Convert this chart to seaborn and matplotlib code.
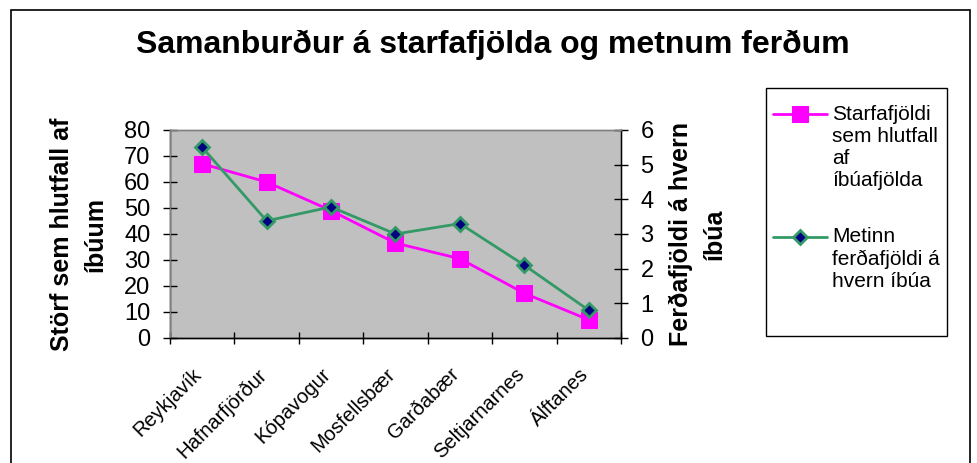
import numpy as np
import pandas as pd
import matplotlib
matplotlib.use('Agg')
import matplotlib.pyplot as plt
import matplotlib.patches as patches
import matplotlib.transforms as mtransforms
from matplotlib.legend_handler import HandlerLine2D
import seaborn as sns

towns = ['Reykjavík', 'Hafnarfjörður', 'Kópavogur', 'Mosfellsbær',
         'Garðabær', 'Seltjarnarnes', 'Álftanes']
jobs_share = [67, 60, 49, 36.5, 30.5, 17.2, 7]
trips_per_res = [5.5, 3.38, 3.78, 3.0, 3.3, 2.1, 0.8]

pink = '#FF00FF'
green = '#339966'
navy = '#000080'

sns.set_theme(style='white', rc={'text.color': 'black', 'axes.labelcolor': 'black',
                                 'xtick.color': 'black', 'ytick.color': 'black'})
plt.rcParams['font.family'] = ['Liberation Sans', 'DejaVu Sans']


class FirstLineHandler(HandlerLine2D):
    # put the legend symbol next to the first text line, like Excel does
    def __init__(self, n_lines, pitch, **kw):
        super().__init__(**kw)
        self.shift = (n_lines - 1) / 2 * pitch

    def create_artists(self, legend, orig_handle, xdescent, ydescent, width,
                       height, fontsize, trans):
        arts = super().create_artists(legend, orig_handle, xdescent, ydescent,
                                      width, height, fontsize, trans)
        for a in arts:
            a.set_ydata(np.asarray(a.get_ydata(), float) + self.shift)
        return arts


df = pd.DataFrame({'pos': np.arange(len(towns)) + 0.5,
                   'jobs': jobs_share, 'trips': trips_per_res})

W, H = 978, 463
fig = plt.figure(figsize=(W / 100, H / 100), dpi=100)
ax = fig.add_axes([170 / W, 1 - 338 / H, 451 / W, 208 / H])
ax.set_facecolor('#C0C0C0')
ax2 = ax.twinx()

lab1 = 'Starfafjöldi\nsem hlutfall\naf\níbúafjölda'
lab2 = 'Metinn\nferðafjöldi á\nhvern íbúa'
sns.lineplot(data=df, x='pos', y='jobs', ax=ax, color=pink, lw=2,
             marker='s', markersize=11, markeredgecolor=pink, markerfacecolor=pink,
             label=lab1, legend=False)
sns.lineplot(data=df, x='pos', y='trips', ax=ax2, color=green, lw=2,
             marker='D', markersize=7.5, markeredgecolor=green, markeredgewidth=2,
             markerfacecolor=navy, label=lab2, legend=False)

ax.set_xlim(0, len(towns))
ax.set_ylim(0, 80)
ax2.set_ylim(0, 6)
ax.set_yticks(range(0, 81, 10))
ax2.set_yticks(range(0, 7, 1))

ax.set_xticks(range(0, len(towns) + 1))
ax.set_xticklabels([])
ax.set_xticks(df['pos'], minor=True)
ax.set_xticklabels(towns, minor=True, rotation=45, ha='right', va='top',
                   rotation_mode='anchor', fontsize=14.5)
ax.tick_params(axis='x', which='major', direction='inout', length=8.5, width=1, bottom=True)
ax.tick_params(axis='x', which='minor', length=0, pad=12)
ax.tick_params(axis='y', direction='inout', length=10, width=1, left=True,
               labelsize=17, pad=9)
ax2.tick_params(axis='y', direction='inout', length=10, width=1, right=True,
                labelsize=17, pad=9)
# nudge the slanted names left and down (after tick_params, which resets transforms)
shift = mtransforms.ScaledTranslation(-10 / 100, -10 / 100, fig.dpi_scale_trans)
for t in ax.get_xticklabels(minor=True):
    t.set_transform(t.get_transform() + shift)

for a in (ax, ax2):
    for s in a.spines.values():
        s.set_color('#808080')
        s.set_linewidth(1)
ax.spines['left'].set_color('black')
ax.spines['bottom'].set_color('black')
ax2.spines['right'].set_color('black')
ax2.spines['bottom'].set_color('black')

ax.set_xlabel('')
ax.set_ylabel('Störf sem hlutfall af\níbúum', fontsize=18, fontweight='bold',
              labelpad=12, linespacing=1.5)
ax2.set_ylabel('Ferðafjöldi á hvern\níbúa', fontsize=18, fontweight='bold',
               rotation=90, labelpad=11, linespacing=1.5)

fig.suptitle('Samanburður á starfafjölda og metnum ferðum', x=493 / W, y=1 - 45 / H,
             va='center', fontsize=23, fontweight='bold')

# legend box drawn on its own so the padding can be uneven like the original
fig.add_artist(patches.Rectangle((766 / W, 1 - 336 / H), 181 / W, 248 / H,
                                 transform=fig.transFigure, fill=False,
                                 edgecolor='black', lw=1))
h1, l1 = ax.get_legend_handles_labels()
h2, l2 = ax2.get_legend_handles_labels()
pitch = 16.4
leg = fig.legend(h1 + h2, l1 + l2, loc='upper left',
                 bbox_to_anchor=(773 / W, 1 - 105 / H),
                 fontsize=15, frameon=False, labelspacing=1.8,
                 handlelength=2.6, handletextpad=0.25, borderpad=0,
                 borderaxespad=0,
                 handler_map={h1[0]: FirstLineHandler(4, pitch),
                              h2[0]: FirstLineHandler(3, pitch)})

# outer chart border
fig.add_artist(patches.Rectangle((11 / W, -0.05), 959 / W, 1.05 - 10 / H,
                                 transform=fig.transFigure, fill=False,
                                 edgecolor='black', lw=1.2))

fig.savefig('out.png', dpi=100, facecolor='white')
